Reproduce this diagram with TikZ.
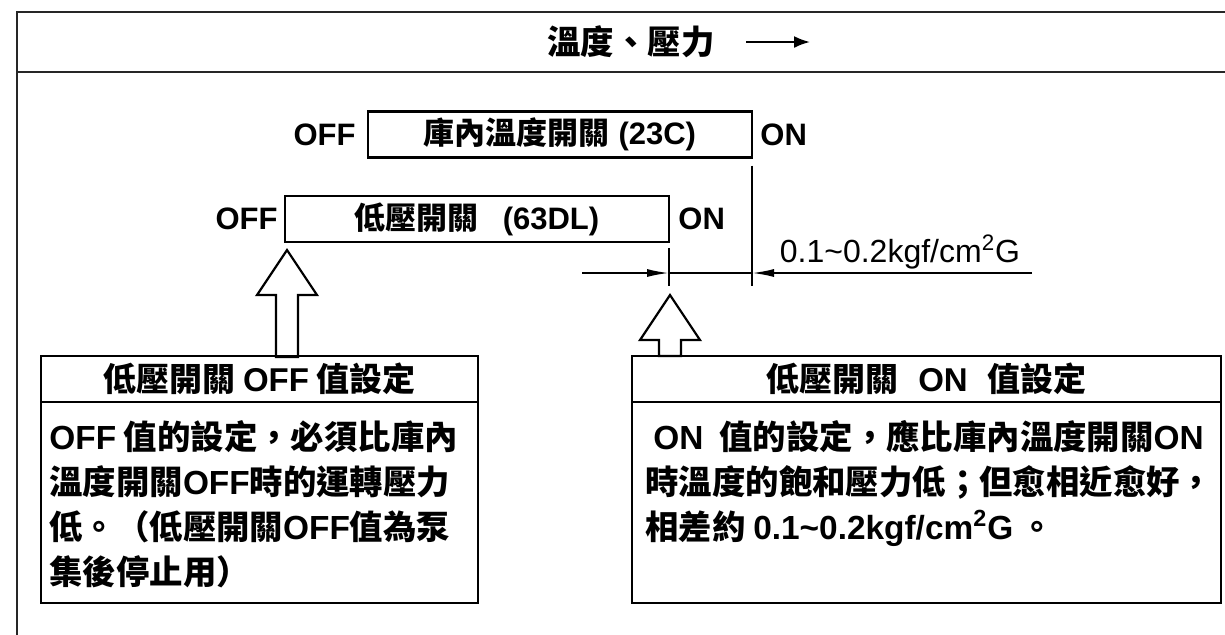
\documentclass[tikz,border=0pt]{standalone}
\usepackage{fontspec}
\setmainfont{Noto Sans CJK TC}
\newfontfamily\latfont{Liberation Sans}
\usetikzlibrary{positioning,arrows.meta,calc}
\newcommand{\lat}[1]{{\latfont #1}}

\begin{document}
\begin{tikzpicture}[x=0.5pt, y=-0.5pt,
    frame/.style={draw=black!85, line width=1.4pt},
    switchbox/.style={draw, line width=1.2pt, outer sep=0pt, minimum width=192pt, minimum height=23pt, inner sep=0pt, font=\fontsize{15.5pt}{18pt}\selectfont\bfseries},
    headbox/.style={draw, line width=1.2pt, outer sep=0pt, minimum height=23pt, inner sep=0pt, font=\fontsize{16.5pt}{20pt}\selectfont\bfseries},
    bodybox/.style={draw, line width=1.2pt, outer sep=0pt, minimum height=100.5pt, inner sep=0pt},
    bodytext/.style={anchor=north west, inner sep=0pt, align=left, font=\fontsize{16.7pt}{22.5pt}\selectfont\bfseries},
    statelabel/.style={inner sep=0pt, font=\latfont\fontsize{15.5pt}{18pt}\selectfont\bfseries},
    dimline/.style={line width=0.9pt},
    dimarrow/.style={-{Latex[length=11pt,width=4pt]}, line width=0.9pt},
    hollow/.style={draw, line width=1.1pt, line join=miter},
]

% Outer frame, cut by the page edge
\clip (0,0) rectangle (1225,634);
\draw[frame] (17,12) rectangle (1260,680);
\draw[frame] (17,72) -- (1260,72);

% Title
\node[font=\fontsize{16.7pt}{20pt}\selectfont\bfseries] (title) at (631,42) {溫度、壓力};
\coordinate (titlearrowA) at (746,42);
\coordinate (titlearrowB) at (810,42);
\draw[-{Latex[length=8pt,width=6pt]}, line width=1.1pt] (titlearrowA) -- (titlearrowB);

% Switch bars
\node[switchbox] (sw23) at (560,134.5) {庫內溫度開關\lat{ (23C)}};
\node[statelabel, left=6pt of sw23] (off23) {OFF};
\node[statelabel, right=4pt of sw23] (on23) {ON};

\node[switchbox] (sw63) at (477,219) {低壓開關\hspace{12pt}\lat{(63DL)}\hspace{4pt}};
\node[statelabel, left=3.5pt of sw63] (off63) {OFF};
\node[statelabel, right=4.5pt of sw63] (on63) {ON};

% Extension lines
\coordinate (ext23a) at ($(sw23.south east)+(0,8)$);
\coordinate (ext23b) at (752,286);
\coordinate (ext63a) at ($(sw63.south east)+(0,6)$);
\coordinate (ext63b) at (669,286);
\draw[dimline] (ext23a) -- (ext23b);
\draw[dimline] (ext63a) -- (ext63b);

% Dimension
\coordinate (dimL) at (582,273);
\coordinate (dimR) at (1032,273);
\draw[dimarrow] (dimL) -- (ext63b |- dimL);
\draw[dimarrow] (dimR) -- (ext23b |- dimR);
\draw[dimline] (ext63b |- dimL) -- (ext23b |- dimR);
\node[font=\latfont\fontsize{16pt}{18pt}\selectfont] (gap) at (900,252) {0.1\textasciitilde0.2kgf/cm\textsuperscript{2}G};

% OFF setting box
\node[headbox, minimum width=218.5pt] (offhead) at (259.5,379) {低壓開關 \lat{OFF} 值設定};
\node[bodybox, minimum width=218.5pt, below=0pt of offhead] (offbody) {};
\node[bodytext] (offtext) at ([xshift=4pt,yshift=-9pt]offbody.north west)
    {\lat{OFF} 值的設定，必須比庫內\\溫度開關\lat{OFF}時的運轉壓力\\低。（低壓開關\lat{OFF}值為泵\\集後停止用）};

% ON setting box
\node[headbox, minimum width=294.5pt] (onhead) at (926.5,379) {低壓開關\hspace{10pt}\lat{ON}\hspace{10pt}值設定};
\node[bodybox, minimum width=294.5pt, below=0pt of onhead] (onbody) {};
\node[bodytext] (ontext) at ([xshift=6.5pt,yshift=-9pt]onbody.north west)
    {\hspace*{4pt}\lat{ON}\hspace{8pt}值的設定，應比庫內溫度開關\lat{ON}\\時溫度的飽和壓力低；但愈相近愈好，\\相差約 \lat{0.1\textasciitilde0.2kgf/cm\textsuperscript{2}G} 。};

% Hollow arrows
\coordinate (tipL) at ($(sw63.south west)+(2,8)$);
\coordinate (tipR) at ($(ext63b)+(1,9)$);
\draw[hollow] (tipL) -- ++(30,45) -- ++(-19,0) -- ++(0,62) -- ++(-22,0) -- ++(0,-62) -- ++(-19,0) -- cycle;
\draw[hollow] (tipR) -- ++(30,45) -- ++(-19,0) -- ++(0,16) -- ++(-22,0) -- ++(0,-16) -- ++(-19,0) -- cycle;

\end{tikzpicture}
\end{document}
